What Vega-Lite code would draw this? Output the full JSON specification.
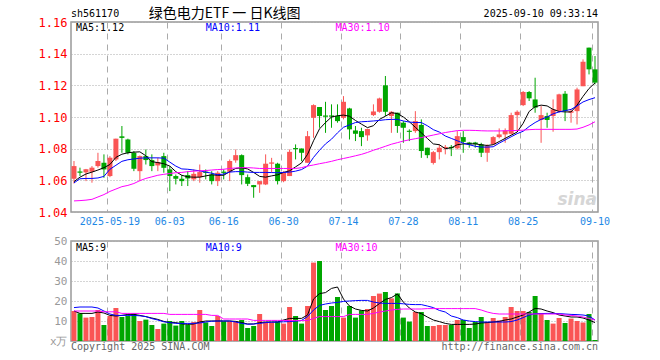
{
"$schema": "https://vega.github.io/schema/vega-lite/v6.json",
"background": "white",
"padding": {"left": 37, "top": 5, "right": 5, "bottom": 3},
"bounds": "flush",
"spacing": 29,
"config": {"view": {"stroke": "#999", "strokeWidth": 1.5}, "text": {"font": "DejaVu Sans Mono"}, "axis": {"labelFont": "DejaVu Sans Mono", "labelOverlap": false}},
"data": {"values": [
{"d":"2025-05-09","o":1.061,"h":1.0722,"l":1.058,"c":1.069,"v":15,"m5":1.0592,"m10":1.0584,"m30":1.047,"a5":15,"a10":16.7,"a30":15},
{"d":"2025-05-12","o":1.0656,"h":1.068,"l":1.0627,"c":1.0648,"v":13.8,"m5":1.062,"m10":1.061,"m30":1.0472,"a5":13.8,"a10":17,"a30":15},
{"d":"2025-05-13","o":1.065,"h":1.0672,"l":1.0595,"c":1.067,"v":11.7,"m5":1.064,"m10":1.0612,"m30":1.0475,"a5":13.8,"a10":17,"a30":15},
{"d":"2025-05-14","o":1.0654,"h":1.069,"l":1.0585,"c":1.068,"v":12,"m5":1.0652,"m10":1.0612,"m30":1.048,"a5":13.8,"a10":17,"a30":15},
{"d":"2025-05-15","o":1.069,"h":1.0774,"l":1.068,"c":1.0722,"v":15.5,"m5":1.0665,"m10":1.0615,"m30":1.0495,"a5":14.5,"a10":16.5,"a30":15},
{"d":"2025-05-16","o":1.0711,"h":1.0764,"l":1.0616,"c":1.0669,"v":8,"m5":1.068,"m10":1.0625,"m30":1.051,"a5":14,"a10":15,"a30":14.6},
{"d":"2025-05-19","o":1.0627,"h":1.0753,"l":1.062,"c":1.0743,"v":12.5,"m5":1.07,"m10":1.067,"m30":1.053,"a5":12.8,"a10":13.5,"a30":14.6},
{"d":"2025-05-20","o":1.0732,"h":1.0863,"l":1.0722,"c":1.0863,"v":16.5,"m5":1.0745,"m10":1.0695,"m30":1.0545,"a5":12.5,"a10":12.8,"a30":14.6},
{"d":"2025-05-21","o":1.0878,"h":1.0943,"l":1.0774,"c":1.0868,"v":12,"m5":1.0765,"m10":1.072,"m30":1.056,"a5":12.8,"a10":12.8,"a30":13.8},
{"d":"2025-05-22","o":1.0858,"h":1.0863,"l":1.0764,"c":1.0774,"v":12.5,"m5":1.0774,"m10":1.073,"m30":1.0568,"a5":13.3,"a10":12.8,"a30":13.8},
{"d":"2025-05-23","o":1.0774,"h":1.0785,"l":1.0658,"c":1.0673,"v":13.8,"m5":1.0778,"m10":1.0735,"m30":1.058,"a5":13.3,"a10":12.8,"a30":13.8},
{"d":"2025-05-26","o":1.0658,"h":1.0757,"l":1.0595,"c":1.0753,"v":10,"m5":1.078,"m10":1.074,"m30":1.0598,"a5":12.8,"a10":12.6,"a30":13.8},
{"d":"2025-05-27","o":1.0753,"h":1.0795,"l":1.07,"c":1.0728,"v":10.7,"m5":1.0755,"m10":1.0742,"m30":1.0612,"a5":12.2,"a10":12.2,"a30":13.8},
{"d":"2025-05-28","o":1.0728,"h":1.0764,"l":1.0658,"c":1.069,"v":8,"m5":1.0718,"m10":1.0742,"m30":1.0622,"a5":11.5,"a10":11.2,"a30":13.8},
{"d":"2025-05-29","o":1.0694,"h":1.0743,"l":1.0658,"c":1.0715,"v":6,"m5":1.0712,"m10":1.0742,"m30":1.0632,"a5":10.8,"a10":10.5,"a30":13.8},
{"d":"2025-05-30","o":1.0753,"h":1.0774,"l":1.0648,"c":1.0679,"v":8.7,"m5":1.0705,"m10":1.074,"m30":1.0638,"a5":9.8,"a10":9.6,"a30":13.8},
{"d":"2025-06-03","o":1.0669,"h":1.069,"l":1.0532,"c":1.0627,"v":10,"m5":1.069,"m10":1.0715,"m30":1.0643,"a5":9.2,"a10":9.2,"a30":13.3},
{"d":"2025-06-04","o":1.0627,"h":1.0637,"l":1.0574,"c":1.061,"v":7.7,"m5":1.0655,"m10":1.069,"m30":1.0648,"a5":9.2,"a10":8.8,"a30":13.3},
{"d":"2025-06-05","o":1.061,"h":1.0633,"l":1.0564,"c":1.0595,"v":10,"m5":1.0632,"m10":1.0672,"m30":1.065,"a5":8.6,"a10":8.8,"a30":13.3},
{"d":"2025-06-06","o":1.0633,"h":1.0658,"l":1.0564,"c":1.0612,"v":8,"m5":1.0622,"m10":1.067,"m30":1.0655,"a5":8.3,"a10":8.8,"a30":13.3},
{"d":"2025-06-09","o":1.0606,"h":1.0669,"l":1.0595,"c":1.0641,"v":9.5,"m5":1.062,"m10":1.0665,"m30":1.0658,"a5":8.5,"a10":8.8,"a30":13.3},
{"d":"2025-06-10","o":1.062,"h":1.07,"l":1.0585,"c":1.0652,"v":15.5,"m5":1.062,"m10":1.066,"m30":1.066,"a5":9.5,"a10":9,"a30":13.3},
{"d":"2025-06-11","o":1.0655,"h":1.0669,"l":1.0606,"c":1.0647,"v":9.3,"m5":1.0628,"m10":1.0652,"m30":1.0662,"a5":10,"a10":9.5,"a30":13.3},
{"d":"2025-06-12","o":1.0637,"h":1.0658,"l":1.0574,"c":1.0595,"v":7.5,"m5":1.0635,"m10":1.0645,"m30":1.0665,"a5":10,"a10":9.9,"a30":12.8},
{"d":"2025-06-13","o":1.0595,"h":1.0658,"l":1.0564,"c":1.0648,"v":12.5,"m5":1.0632,"m10":1.0635,"m30":1.0668,"a5":10,"a10":10,"a30":12.8},
{"d":"2025-06-16","o":1.0655,"h":1.0669,"l":1.0606,"c":1.0647,"v":9.8,"m5":1.0632,"m10":1.064,"m30":1.067,"a5":10,"a10":10,"a30":11},
{"d":"2025-06-17","o":1.0654,"h":1.0732,"l":1.0595,"c":1.0722,"v":9.8,"m5":1.0655,"m10":1.0652,"m30":1.0675,"a5":10,"a10":10,"a30":11},
{"d":"2025-06-18","o":1.0726,"h":1.0795,"l":1.0711,"c":1.0759,"v":9.8,"m5":1.0675,"m10":1.0655,"m30":1.0678,"a5":9.8,"a10":9.5,"a30":11},
{"d":"2025-06-19","o":1.0759,"h":1.0764,"l":1.0574,"c":1.0633,"v":10.5,"m5":1.0679,"m10":1.0655,"m30":1.068,"a5":9.2,"a10":8.8,"a30":11},
{"d":"2025-06-20","o":1.062,"h":1.0637,"l":1.0564,"c":1.0578,"v":6.5,"m5":1.0672,"m10":1.0652,"m30":1.068,"a5":8.5,"a10":8.4,"a30":11},
{"d":"2025-06-23","o":1.057,"h":1.0571,"l":1.049,"c":1.0557,"v":7.5,"m5":1.065,"m10":1.065,"m30":1.0678,"a5":8.5,"a10":8.5,"a30":10.3},
{"d":"2025-06-24","o":1.0574,"h":1.0595,"l":1.0521,"c":1.0595,"v":13.5,"m5":1.0625,"m10":1.065,"m30":1.0675,"a5":9.2,"a10":8.8,"a30":10.3},
{"d":"2025-06-25","o":1.0574,"h":1.0764,"l":1.057,"c":1.0705,"v":9.5,"m5":1.062,"m10":1.065,"m30":1.0675,"a5":9.5,"a10":9.2,"a30":10.3},
{"d":"2025-06-26","o":1.0705,"h":1.0742,"l":1.0648,"c":1.0713,"v":9.2,"m5":1.0628,"m10":1.0649,"m30":1.0675,"a5":9.5,"a10":9.4,"a30":10.3},
{"d":"2025-06-27","o":1.0705,"h":1.0711,"l":1.0574,"c":1.0595,"v":9.7,"m5":1.0635,"m10":1.0648,"m30":1.0675,"a5":9.5,"a10":9.5,"a30":10.3},
{"d":"2025-06-30","o":1.0595,"h":1.0658,"l":1.0588,"c":1.0648,"v":8.7,"m5":1.065,"m10":1.065,"m30":1.0675,"a5":10.5,"a10":9.6,"a30":10.3},
{"d":"2025-07-01","o":1.0627,"h":1.0795,"l":1.0627,"c":1.078,"v":17,"m5":1.066,"m10":1.0652,"m30":1.0675,"a5":11.3,"a10":9.7,"a30":10.2},
{"d":"2025-07-02","o":1.0804,"h":1.0827,"l":1.0732,"c":1.0797,"v":12.5,"m5":1.0685,"m10":1.0658,"m30":1.0675,"a5":11.3,"a10":9.9,"a30":10.2},
{"d":"2025-07-03","o":1.0801,"h":1.0801,"l":1.0721,"c":1.0774,"v":8.7,"m5":1.071,"m10":1.0668,"m30":1.068,"a5":11.3,"a10":10.3,"a30":10.2},
{"d":"2025-07-04","o":1.0711,"h":1.0911,"l":1.0711,"c":1.0879,"v":17.5,"m5":1.0764,"m10":1.069,"m30":1.069,"a5":13,"a10":12.2,"a30":10.2},
{"d":"2025-07-07","o":1.0995,"h":1.108,"l":1.0869,"c":1.1075,"v":39.2,"m5":1.085,"m10":1.0745,"m30":1.0697,"a5":21,"a10":15.5,"a30":11.3},
{"d":"2025-07-08","o":1.1063,"h":1.1063,"l":1.0932,"c":1.1006,"v":40,"m5":1.0925,"m10":1.079,"m30":1.0705,"a5":23.7,"a10":17.8,"a30":12.2},
{"d":"2025-07-09","o":1.101,"h":1.1096,"l":1.09,"c":1.1002,"v":15.5,"m5":1.0965,"m10":1.083,"m30":1.0712,"a5":24.2,"a10":18.5,"a30":12.2},
{"d":"2025-07-10","o":1.101,"h":1.108,"l":1.0932,"c":1.1002,"v":17.5,"m5":1.1,"m10":1.086,"m30":1.072,"a5":26.3,"a10":19,"a30":12.2},
{"d":"2025-07-11","o":1.1006,"h":1.108,"l":1.0964,"c":1.0974,"v":22,"m5":1.1008,"m10":1.09,"m30":1.073,"a5":27,"a10":19.3,"a30":12.2},
{"d":"2025-07-14","o":1.0995,"h":1.1132,"l":1.0985,"c":1.1096,"v":11.7,"m5":1.1012,"m10":1.0935,"m30":1.0738,"a5":21,"a10":19.8,"a30":12.2},
{"d":"2025-07-15","o":1.1054,"h":1.1058,"l":1.0858,"c":1.0922,"v":17.5,"m5":1.1005,"m10":1.095,"m30":1.0746,"a5":17.5,"a10":20,"a30":13.3},
{"d":"2025-07-16","o":1.0915,"h":1.0943,"l":1.0848,"c":1.0894,"v":11.7,"m5":1.0978,"m10":1.0965,"m30":1.0755,"a5":16,"a10":20.2,"a30":13.3},
{"d":"2025-07-17","o":1.0911,"h":1.0932,"l":1.0816,"c":1.0873,"v":15.3,"m5":1.0955,"m10":1.097,"m30":1.0764,"a5":15.3,"a10":20.3,"a30":13.3},
{"d":"2025-07-18","o":1.0884,"h":1.0926,"l":1.085,"c":1.0924,"v":16,"m5":1.0933,"m10":1.0972,"m30":1.0776,"a5":15,"a10":20.3,"a30":13.3},
{"d":"2025-07-21","o":1.1012,"h":1.108,"l":1.1006,"c":1.1035,"v":22.5,"m5":1.0945,"m10":1.0975,"m30":1.079,"a5":16.5,"a10":19.5,"a30":13.8},
{"d":"2025-07-22","o":1.1033,"h":1.1122,"l":1.1027,"c":1.1117,"v":23.7,"m5":1.0985,"m10":1.0978,"m30":1.0802,"a5":18.7,"a10":19,"a30":14.5},
{"d":"2025-07-23","o":1.12,"h":1.1259,"l":1.1006,"c":1.1033,"v":24.5,"m5":1.1005,"m10":1.0983,"m30":1.0815,"a5":20.8,"a10":18.8,"a30":15},
{"d":"2025-07-24","o":1.1006,"h":1.1037,"l":1.09,"c":1.1033,"v":21.3,"m5":1.1027,"m10":1.0985,"m30":1.0828,"a5":21.7,"a10":18.8,"a30":15.5},
{"d":"2025-07-25","o":1.1027,"h":1.1027,"l":1.09,"c":1.0943,"v":23.8,"m5":1.1022,"m10":1.0985,"m30":1.0838,"a5":23.5,"a10":18.8,"a30":15.8},
{"d":"2025-07-28","o":1.0964,"h":1.0974,"l":1.0837,"c":1.0932,"v":11.7,"m5":1.1,"m10":1.0975,"m30":1.0848,"a5":19.5,"a10":18.6,"a30":16},
{"d":"2025-07-29","o":1.0913,"h":1.0922,"l":1.0848,"c":1.0906,"v":9.7,"m5":1.097,"m10":1.0968,"m30":1.0856,"a5":16.5,"a10":18.3,"a30":16},
{"d":"2025-07-30","o":1.0911,"h":1.1037,"l":1.09,"c":1.0974,"v":14.5,"m5":1.0935,"m10":1.0965,"m30":1.0863,"a5":14.5,"a10":18.2,"a30":16},
{"d":"2025-07-31","o":1.095,"h":1.0985,"l":1.0742,"c":1.0785,"v":14.5,"m5":1.09,"m10":1.0965,"m30":1.087,"a5":13.7,"a10":18.2,"a30":16},
{"d":"2025-08-01","o":1.0806,"h":1.0806,"l":1.074,"c":1.0759,"v":7.5,"m5":1.0865,"m10":1.0945,"m30":1.0878,"a5":12,"a10":17.5,"a30":16.2},
{"d":"2025-08-04","o":1.071,"h":1.0785,"l":1.07,"c":1.0778,"v":7.5,"m5":1.083,"m10":1.092,"m30":1.0886,"a5":10.5,"a10":16.7,"a30":16.2},
{"d":"2025-08-05","o":1.0778,"h":1.0827,"l":1.0732,"c":1.0806,"v":8,"m5":1.0825,"m10":1.0905,"m30":1.0894,"a5":9.7,"a10":15.3,"a30":16.2},
{"d":"2025-08-06","o":1.0803,"h":1.0823,"l":1.0764,"c":1.0811,"v":8,"m5":1.08,"m10":1.088,"m30":1.0902,"a5":8.8,"a10":14.5,"a30":16.2},
{"d":"2025-08-07","o":1.0811,"h":1.0823,"l":1.0753,"c":1.0803,"v":8,"m5":1.0805,"m10":1.0865,"m30":1.0908,"a5":8.3,"a10":12.5,"a30":16.2},
{"d":"2025-08-08","o":1.0802,"h":1.0911,"l":1.0795,"c":1.0879,"v":10.5,"m5":1.0825,"m10":1.085,"m30":1.0914,"a5":8.3,"a10":11.7,"a30":16.2},
{"d":"2025-08-11","o":1.0873,"h":1.0911,"l":1.0774,"c":1.0843,"v":10.5,"m5":1.083,"m10":1.0835,"m30":1.0916,"a5":8.3,"a10":10.5,"a30":16.2},
{"d":"2025-08-12","o":1.0839,"h":1.0843,"l":1.0806,"c":1.0827,"v":6.5,"m5":1.083,"m10":1.0825,"m30":1.0916,"a5":8.3,"a10":10,"a30":16.2},
{"d":"2025-08-13","o":1.0839,"h":1.0843,"l":1.0806,"c":1.0829,"v":9.5,"m5":1.083,"m10":1.0815,"m30":1.0915,"a5":8.5,"a10":9.7,"a30":16.2},
{"d":"2025-08-14","o":1.0827,"h":1.0837,"l":1.0747,"c":1.0774,"v":12,"m5":1.0825,"m10":1.081,"m30":1.0913,"a5":9,"a10":9.5,"a30":15.5},
{"d":"2025-08-15","o":1.0774,"h":1.0827,"l":1.0717,"c":1.0816,"v":9.5,"m5":1.082,"m10":1.081,"m30":1.0912,"a5":9.2,"a10":9.5,"a30":14.5},
{"d":"2025-08-18","o":1.0827,"h":1.0879,"l":1.0827,"c":1.0873,"v":11.5,"m5":1.0825,"m10":1.0812,"m30":1.0912,"a5":9.5,"a10":9.5,"a30":13.8},
{"d":"2025-08-19","o":1.0873,"h":1.0928,"l":1.0865,"c":1.089,"v":10.3,"m5":1.0845,"m10":1.0835,"m30":1.0912,"a5":9.8,"a10":9.5,"a30":13.5},
{"d":"2025-08-20","o":1.089,"h":1.0928,"l":1.0837,"c":1.0915,"v":12,"m5":1.0865,"m10":1.0855,"m30":1.0913,"a5":10.5,"a10":9.5,"a30":13.5},
{"d":"2025-08-21","o":1.0894,"h":1.1027,"l":1.089,"c":1.1012,"v":17,"m5":1.0885,"m10":1.0875,"m30":1.0914,"a5":11,"a10":9.7,"a30":13.5},
{"d":"2025-08-22","o":1.1012,"h":1.1042,"l":1.0911,"c":1.1033,"v":15,"m5":1.0905,"m10":1.0895,"m30":1.0915,"a5":12,"a10":10.5,"a30":13.5},
{"d":"2025-08-25","o":1.1075,"h":1.1164,"l":1.1069,"c":1.1158,"v":15,"m5":1.096,"m10":1.091,"m30":1.0917,"a5":13,"a10":11.7,"a30":13.5},
{"d":"2025-08-26","o":1.1158,"h":1.1164,"l":1.1101,"c":1.1118,"v":14.5,"m5":1.1035,"m10":1.094,"m30":1.092,"a5":14.5,"a10":13,"a30":13.5},
{"d":"2025-08-27","o":1.1111,"h":1.1248,"l":1.1027,"c":1.1059,"v":22.5,"m5":1.1065,"m10":1.0965,"m30":1.0922,"a5":16.3,"a10":13.7,"a30":13.5},
{"d":"2025-08-28","o":1.0981,"h":1.1069,"l":1.0837,"c":1.1012,"v":14,"m5":1.1075,"m10":1.0985,"m30":1.0922,"a5":16,"a10":13.7,"a30":13.5},
{"d":"2025-08-29","o":1.1006,"h":1.1027,"l":1.0932,"c":1.0981,"v":10.5,"m5":1.107,"m10":1.1,"m30":1.0922,"a5":15,"a10":13.8,"a30":13.5},
{"d":"2025-09-01","o":1.1006,"h":1.1111,"l":1.0907,"c":1.1048,"v":8.7,"m5":1.1048,"m10":1.102,"m30":1.0922,"a5":14.2,"a10":13.8,"a30":13.5},
{"d":"2025-09-02","o":1.1037,"h":1.1147,"l":1.1027,"c":1.1143,"v":11.5,"m5":1.1035,"m10":1.1032,"m30":1.0922,"a5":13,"a10":13.7,"a30":13.5},
{"d":"2025-09-03","o":1.1147,"h":1.1164,"l":1.0974,"c":1.1037,"v":9,"m5":1.1032,"m10":1.104,"m30":1.0922,"a5":12.5,"a10":13.5,"a30":13},
{"d":"2025-09-04","o":1.1027,"h":1.1048,"l":1.0964,"c":1.1037,"v":11.2,"m5":1.1032,"m10":1.1048,"m30":1.0922,"a5":12,"a10":13.3,"a30":12.8},
{"d":"2025-09-05","o":1.1037,"h":1.1185,"l":1.0953,"c":1.1174,"v":10,"m5":1.1075,"m10":1.107,"m30":1.0924,"a5":12,"a10":13.2,"a30":12.5},
{"d":"2025-09-08","o":1.1195,"h":1.1364,"l":1.1195,"c":1.1349,"v":9.2,"m5":1.113,"m10":1.1095,"m30":1.0935,"a5":11.5,"a10":13,"a30":12},
{"d":"2025-09-09","o":1.1438,"h":1.1438,"l":1.1269,"c":1.1301,"v":13.5,"m5":1.118,"m10":1.111,"m30":1.095,"a5":10.5,"a10":12.5,"a30":11.3},
{"d":"2025-09-10","o":1.1301,"h":1.1385,"l":1.1206,"c":1.1217,"v":0.5,"m5":1.1215,"m10":1.1122,"m30":1.097,"a5":9.2,"a10":10.5,"a30":10.5}
]},
"vconcat": [
{
"width": 527, "height": 190,
"encoding": {
"x": {"field": "d", "type": "ordinal", "scale": {"paddingInner": 0, "paddingOuter": 0},
 "axis": {"values": ["2025-05-19","2025-06-03","2025-06-16","2025-06-30","2025-07-14","2025-07-28","2025-08-11","2025-08-25","2025-09-10"],
  "labelExpr": "datum.value == '2025-05-19' ? datum.value : slice(datum.value, 5)",
  "labelAngle": 0, "labelColor": "#1e88e5", "labelFontSize": 10, "labelPadding": 4, "ticks": false, "tickSize": 0, "domain": false,
  "grid": true, "gridColor": "#aaa", "gridDash": [6, 5], "gridWidth": 1, "bandPosition": 0.1, "title": null}}
},
"layer": [
{"mark": {"type": "rule", "strokeWidth": 1},
 "encoding": {
  "y": {"field": "l", "type": "quantitative", "scale": {"domain": [1.04, 1.16], "nice": false, "zero": false},
   "axis": {"values": [1.04, 1.06, 1.08, 1.10, 1.12, 1.14, 1.16], "labelExpr": "format(datum.value, '.2f')", "labelColor": "#ff0000", "labelFontSize": 12, "labelPadding": 4, "labelOverlap": false, "ticks": false, "tickSize": 0, "domain": false, "grid": true, "gridColor": "#aaa", "gridDash": [1, 2], "title": null}},
  "y2": {"field": "h"},
  "color": {"condition": {"test": "datum.c >= datum.o", "value": "#fa5555"}, "value": "#00a600"}}},
{"mark": {"type": "bar", "size": 5},
 "encoding": {
  "y": {"field": "o", "type": "quantitative", "axis": {"values": [1.04, 1.06, 1.08, 1.10, 1.12, 1.14, 1.16], "labelExpr": "format(datum.value, '.2f')", "labelColor": "#ff0000", "labelFontSize": 12, "labelPadding": 4, "labelOverlap": false, "ticks": false, "tickSize": 0, "domain": false, "grid": true, "gridColor": "#aaa", "gridDash": [1, 2], "title": null}},
  "y2": {"field": "c"},
  "color": {"condition": {"test": "datum.c >= datum.o", "value": "#fa5555"}, "value": "#00a600"}}},
{"mark": {"type": "line", "color": "#000000", "strokeWidth": 1}, "encoding": {"y": {"field": "m5", "type": "quantitative", "axis": {"values": [1.04, 1.06, 1.08, 1.10, 1.12, 1.14, 1.16], "labelExpr": "format(datum.value, '.2f')", "labelColor": "#ff0000", "labelFontSize": 12, "labelPadding": 4, "labelOverlap": false, "ticks": false, "tickSize": 0, "domain": false, "grid": true, "gridColor": "#aaa", "gridDash": [1, 2], "title": null}}}},
{"mark": {"type": "line", "color": "#0000ff", "strokeWidth": 1}, "encoding": {"y": {"field": "m10", "type": "quantitative", "axis": {"values": [1.04, 1.06, 1.08, 1.10, 1.12, 1.14, 1.16], "labelExpr": "format(datum.value, '.2f')", "labelColor": "#ff0000", "labelFontSize": 12, "labelPadding": 4, "labelOverlap": false, "ticks": false, "tickSize": 0, "domain": false, "grid": true, "gridColor": "#aaa", "gridDash": [1, 2], "title": null}}}},
{"mark": {"type": "line", "color": "#ff00ff", "strokeWidth": 1}, "encoding": {"y": {"field": "m30", "type": "quantitative", "axis": {"values": [1.04, 1.06, 1.08, 1.10, 1.12, 1.14, 1.16], "labelExpr": "format(datum.value, '.2f')", "labelColor": "#ff0000", "labelFontSize": 12, "labelPadding": 4, "labelOverlap": false, "ticks": false, "tickSize": 0, "domain": false, "grid": true, "gridColor": "#aaa", "gridDash": [1, 2], "title": null}}}},
{"data": {"values": [{}]}, "mark": {"type": "text", "text": "sh561170", "align": "left", "baseline": "middle", "fontSize": 10, "color": "#000", "dx": -3, "dy": -8.5},
 "encoding": {"x": {"datum": "2025-05-09", "type": "ordinal"}, "y": {"datum": 1.16, "type": "quantitative", "axis": {"values": [1.04, 1.06, 1.08, 1.10, 1.12, 1.14, 1.16], "labelExpr": "format(datum.value, '.2f')", "labelColor": "#ff0000", "labelFontSize": 12, "labelPadding": 4, "labelOverlap": false, "ticks": false, "tickSize": 0, "domain": false, "grid": true, "gridColor": "#aaa", "gridDash": [1, 2], "title": null}}}},
{"data": {"values": [{}]}, "mark": {"type": "text", "text": "绿色电力ETF 一 日K线图", "font": "Noto Sans CJK SC", "align": "center", "baseline": "middle", "fontSize": 14, "color": "#000", "dx": 1, "dy": -8.5},
 "encoding": {"x": {"datum": "2025-06-16", "type": "ordinal"}, "y": {"datum": 1.16, "type": "quantitative", "axis": {"values": [1.04, 1.06, 1.08, 1.10, 1.12, 1.14, 1.16], "labelExpr": "format(datum.value, '.2f')", "labelColor": "#ff0000", "labelFontSize": 12, "labelPadding": 4, "labelOverlap": false, "ticks": false, "tickSize": 0, "domain": false, "grid": true, "gridColor": "#aaa", "gridDash": [1, 2], "title": null}}}},
{"data": {"values": [{}]}, "mark": {"type": "text", "text": "2025-09-10 09:33:14", "align": "right", "baseline": "middle", "fontSize": 10, "color": "#000", "dx": 3, "dy": -8.5},
 "encoding": {"x": {"datum": "2025-09-10", "type": "ordinal"}, "y": {"datum": 1.16, "type": "quantitative", "axis": {"values": [1.04, 1.06, 1.08, 1.10, 1.12, 1.14, 1.16], "labelExpr": "format(datum.value, '.2f')", "labelColor": "#ff0000", "labelFontSize": 12, "labelPadding": 4, "labelOverlap": false, "ticks": false, "tickSize": 0, "domain": false, "grid": true, "gridColor": "#aaa", "gridDash": [1, 2], "title": null}}}},
{"data": {"values": [{}]}, "mark": {"type": "text", "text": "MA5:1.12", "align": "left", "baseline": "middle", "fontSize": 10, "color": "#000", "dx": 2, "dy": 6},
 "encoding": {"x": {"datum": "2025-05-09", "type": "ordinal"}, "y": {"datum": 1.16, "type": "quantitative", "axis": {"values": [1.04, 1.06, 1.08, 1.10, 1.12, 1.14, 1.16], "labelExpr": "format(datum.value, '.2f')", "labelColor": "#ff0000", "labelFontSize": 12, "labelPadding": 4, "labelOverlap": false, "ticks": false, "tickSize": 0, "domain": false, "grid": true, "gridColor": "#aaa", "gridDash": [1, 2], "title": null}}}},
{"data": {"values": [{}]}, "mark": {"type": "text", "text": "MA10:1.11", "align": "left", "baseline": "middle", "fontSize": 10, "color": "#0000ff", "dx": 0, "dy": 6},
 "encoding": {"x": {"datum": "2025-06-11", "type": "ordinal"}, "y": {"datum": 1.16, "type": "quantitative", "axis": {"values": [1.04, 1.06, 1.08, 1.10, 1.12, 1.14, 1.16], "labelExpr": "format(datum.value, '.2f')", "labelColor": "#ff0000", "labelFontSize": 12, "labelPadding": 4, "labelOverlap": false, "ticks": false, "tickSize": 0, "domain": false, "grid": true, "gridColor": "#aaa", "gridDash": [1, 2], "title": null}}}},
{"data": {"values": [{}]}, "mark": {"type": "text", "text": "MA30:1.10", "align": "left", "baseline": "middle", "fontSize": 10, "color": "#ff00ff", "dx": -2, "dy": 6},
 "encoding": {"x": {"datum": "2025-07-11", "type": "ordinal"}, "y": {"datum": 1.16, "type": "quantitative", "axis": {"values": [1.04, 1.06, 1.08, 1.10, 1.12, 1.14, 1.16], "labelExpr": "format(datum.value, '.2f')", "labelColor": "#ff0000", "labelFontSize": 12, "labelPadding": 4, "labelOverlap": false, "ticks": false, "tickSize": 0, "domain": false, "grid": true, "gridColor": "#aaa", "gridDash": [1, 2], "title": null}}}},
{"data": {"values": [{}]}, "mark": {"type": "text", "text": "sina", "align": "right", "baseline": "middle", "fontSize": 17, "fontStyle": "italic", "fontWeight": "bold", "font": "DejaVu Sans", "color": "#d6d6d6", "dx": 2},
 "encoding": {"x": {"datum": "2025-09-10", "type": "ordinal"}, "y": {"datum": 1.0475, "type": "quantitative", "axis": {"values": [1.04, 1.06, 1.08, 1.10, 1.12, 1.14, 1.16], "labelExpr": "format(datum.value, '.2f')", "labelColor": "#ff0000", "labelFontSize": 12, "labelPadding": 4, "labelOverlap": false, "ticks": false, "tickSize": 0, "domain": false, "grid": true, "gridColor": "#aaa", "gridDash": [1, 2], "title": null}}}}
]
},
{
"width": 527, "height": 100,
"encoding": {
"x": {"field": "d", "type": "ordinal", "scale": {"paddingInner": 0, "paddingOuter": 0},
 "axis": {"values": ["2025-05-19","2025-06-03","2025-06-16","2025-06-30","2025-07-14","2025-07-28","2025-08-11","2025-08-25","2025-09-10"],
  "labels": false, "ticks": false, "tickSize": 0, "domain": false,
  "grid": true, "gridColor": "#aaa", "gridDash": [6, 5], "gridWidth": 1, "bandPosition": 0.1, "title": null}}
},
"layer": [
{"mark": {"type": "bar", "size": 5},
 "encoding": {
  "y": {"field": "v", "type": "quantitative", "scale": {"domain": [0, 50], "nice": false},
   "axis": {"values": [0, 10, 20, 30, 40, 50], "labelExpr": "datum.value == 0 ? 'x万' : format(datum.value, 'd')", "labelColor": "#999", "labelFontSize": 11, "labelPadding": 4, "labelOverlap": false, "ticks": false, "tickSize": 0, "domain": false, "grid": true, "gridColor": "#aaa", "gridDash": [1, 2], "title": null}},
  "color": {"condition": {"test": "datum.c >= datum.o", "value": "#fa5555"}, "value": "#00a600"}}},
{"mark": {"type": "line", "color": "#000000", "strokeWidth": 1}, "encoding": {"y": {"field": "a5", "type": "quantitative", "axis": {"values": [0, 10, 20, 30, 40, 50], "labelExpr": "datum.value == 0 ? 'x万' : format(datum.value, 'd')", "labelColor": "#999", "labelFontSize": 11, "labelPadding": 4, "labelOverlap": false, "ticks": false, "tickSize": 0, "domain": false, "grid": true, "gridColor": "#aaa", "gridDash": [1, 2], "title": null}}}},
{"mark": {"type": "line", "color": "#0000ff", "strokeWidth": 1}, "encoding": {"y": {"field": "a10", "type": "quantitative", "axis": {"values": [0, 10, 20, 30, 40, 50], "labelExpr": "datum.value == 0 ? 'x万' : format(datum.value, 'd')", "labelColor": "#999", "labelFontSize": 11, "labelPadding": 4, "labelOverlap": false, "ticks": false, "tickSize": 0, "domain": false, "grid": true, "gridColor": "#aaa", "gridDash": [1, 2], "title": null}}}},
{"mark": {"type": "line", "color": "#ff00ff", "strokeWidth": 1}, "encoding": {"y": {"field": "a30", "type": "quantitative", "axis": {"values": [0, 10, 20, 30, 40, 50], "labelExpr": "datum.value == 0 ? 'x万' : format(datum.value, 'd')", "labelColor": "#999", "labelFontSize": 11, "labelPadding": 4, "labelOverlap": false, "ticks": false, "tickSize": 0, "domain": false, "grid": true, "gridColor": "#aaa", "gridDash": [1, 2], "title": null}}}},
{"data": {"values": [{}]}, "mark": {"type": "text", "text": "MA5:9", "align": "left", "baseline": "middle", "fontSize": 10, "color": "#000", "dx": 2, "dy": 6.5},
 "encoding": {"x": {"datum": "2025-05-09", "type": "ordinal"}, "y": {"datum": 50, "type": "quantitative", "axis": {"values": [0, 10, 20, 30, 40, 50], "labelExpr": "datum.value == 0 ? 'x万' : format(datum.value, 'd')", "labelColor": "#999", "labelFontSize": 11, "labelPadding": 4, "labelOverlap": false, "ticks": false, "tickSize": 0, "domain": false, "grid": true, "gridColor": "#aaa", "gridDash": [1, 2], "title": null}}}},
{"data": {"values": [{}]}, "mark": {"type": "text", "text": "MA10:9", "align": "left", "baseline": "middle", "fontSize": 10, "color": "#0000ff", "dx": 0, "dy": 6.5},
 "encoding": {"x": {"datum": "2025-06-11", "type": "ordinal"}, "y": {"datum": 50, "type": "quantitative", "axis": {"values": [0, 10, 20, 30, 40, 50], "labelExpr": "datum.value == 0 ? 'x万' : format(datum.value, 'd')", "labelColor": "#999", "labelFontSize": 11, "labelPadding": 4, "labelOverlap": false, "ticks": false, "tickSize": 0, "domain": false, "grid": true, "gridColor": "#aaa", "gridDash": [1, 2], "title": null}}}},
{"data": {"values": [{}]}, "mark": {"type": "text", "text": "MA30:10", "align": "left", "baseline": "middle", "fontSize": 10, "color": "#ff00ff", "dx": -2, "dy": 6.5},
 "encoding": {"x": {"datum": "2025-07-11", "type": "ordinal"}, "y": {"datum": 50, "type": "quantitative", "axis": {"values": [0, 10, 20, 30, 40, 50], "labelExpr": "datum.value == 0 ? 'x万' : format(datum.value, 'd')", "labelColor": "#999", "labelFontSize": 11, "labelPadding": 4, "labelOverlap": false, "ticks": false, "tickSize": 0, "domain": false, "grid": true, "gridColor": "#aaa", "gridDash": [1, 2], "title": null}}}},
{"data": {"values": [{}]}, "mark": {"type": "text", "text": "Copyright 2025 SINA.COM", "align": "left", "baseline": "middle", "fontSize": 10, "color": "#666", "dx": -3, "dy": 6},
 "encoding": {"x": {"datum": "2025-05-09", "type": "ordinal"}, "y": {"datum": 0, "type": "quantitative", "axis": {"values": [0, 10, 20, 30, 40, 50], "labelExpr": "datum.value == 0 ? 'x万' : format(datum.value, 'd')", "labelColor": "#999", "labelFontSize": 11, "labelPadding": 4, "labelOverlap": false, "ticks": false, "tickSize": 0, "domain": false, "grid": true, "gridColor": "#aaa", "gridDash": [1, 2], "title": null}}}},
{"data": {"values": [{}]}, "mark": {"type": "text", "text": "http://finance.sina.com.cn", "align": "right", "baseline": "middle", "fontSize": 10, "color": "#666", "dx": 3, "dy": 6},
 "encoding": {"x": {"datum": "2025-09-10", "type": "ordinal"}, "y": {"datum": 0, "type": "quantitative", "axis": {"values": [0, 10, 20, 30, 40, 50], "labelExpr": "datum.value == 0 ? 'x万' : format(datum.value, 'd')", "labelColor": "#999", "labelFontSize": 11, "labelPadding": 4, "labelOverlap": false, "ticks": false, "tickSize": 0, "domain": false, "grid": true, "gridColor": "#aaa", "gridDash": [1, 2], "title": null}}}}
]
}
]
}
